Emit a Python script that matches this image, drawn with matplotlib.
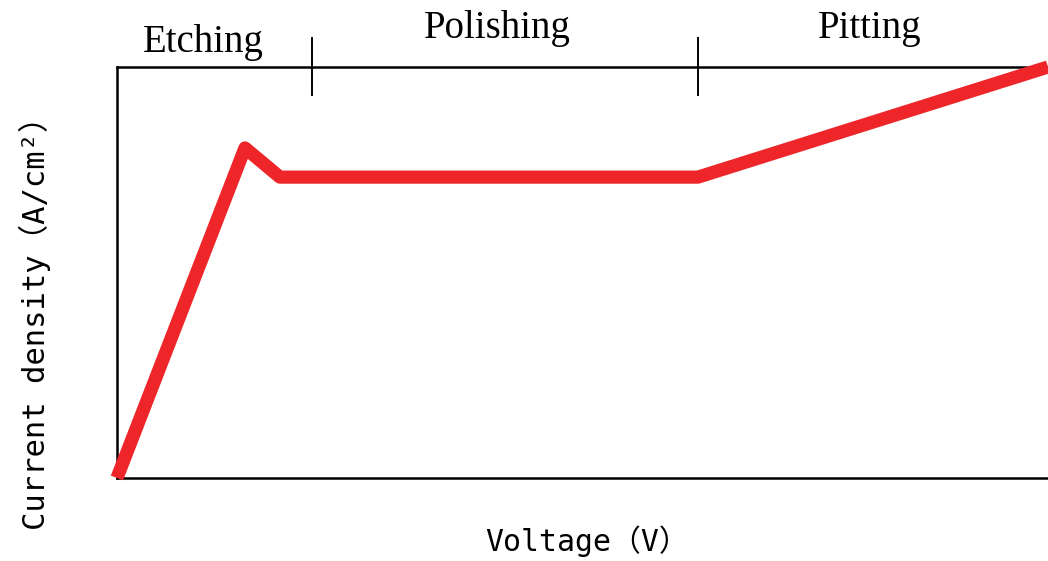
import matplotlib.pyplot as plt

# schematic polarisation curve (arbitrary units)
voltage = [0, 13.75, 17.5, 62.4, 100]
current = [0, 80.3, 73.2, 73.2, 100]

stage_names = ['Etching', 'Polishing', 'Pitting']
stage_label_x = [9.3, 40.8, 80.8]
stage_label_y = [103.6, 107.1, 107.1]
stage_bounds = [20.9, 62.4]

fig = plt.figure(figsize=(10.48, 5.61), dpi=100)
ax = fig.add_axes([0.1116, 0.148, 0.8884, 0.7326])

ax.plot(voltage, current, color='#EE2529', lw=9.5, solid_joinstyle='round',
        solid_capstyle='butt', clip_on=False, zorder=3)

ax.set_xlim(0, 100)
ax.set_ylim(0, 100)
ax.set_xticks([])
ax.set_yticks([])
ax.spines['right'].set_visible(False)
for s in ['left', 'bottom', 'top']:
    ax.spines[s].set_linewidth(1.8)

# boundaries between the stages, crossing the top frame
for b in stage_bounds:
    ax.plot([b, b], [93.2, 107.1], color='black', lw=1.4, clip_on=False)

for name, x, y in zip(stage_names, stage_label_x, stage_label_y):
    ax.text(x, y, name, ha='center', va='baseline',
            family='Liberation Serif', fontsize=28)

lab_font = ['DejaVu Sans Mono', 'Noto Sans CJK SC']
fig.text(0.56, 0.035, 'Voltage（V）', ha='center', va='center',
         family=lab_font, fontsize=21.5)
fig.text(0.033, 0.438, 'Current density（A/cm²）', ha='center', va='center',
         rotation=90, family=lab_font, fontsize=22)

fig.savefig('out.png', dpi=100)
